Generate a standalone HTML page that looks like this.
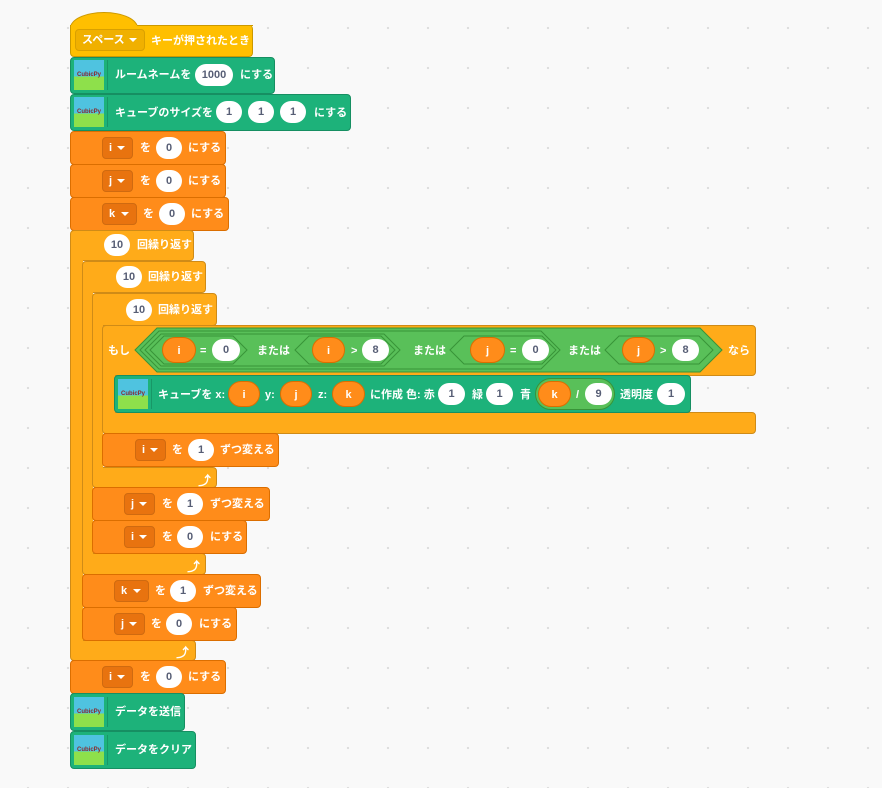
<!DOCTYPE html>
<html><head><meta charset="utf-8"><style>
body{margin:0;width:882px;height:788px;overflow:hidden;background-color:#f9f9f9;background-image:radial-gradient(#dcdcdc 1px,transparent 1.3px);background-size:40px 40px;background-position:8px 8px;font-family:"Liberation Sans","Noto Sans CJK JP",sans-serif;font-weight:bold;font-size:11px;color:#fff;position:relative}
.b{position:absolute;box-sizing:border-box;border-radius:4px}
.hat{background:#FFBF00;border:1px solid #cc9900}
.grn{background:#1db27a;border:1px solid #168f62}
.org{background:#FF8C1A;border:1px solid #db6e00}
.ctl{background:#FFAB19;border:1px solid #cf8b17}
.col{border:none!important;border-left:1px solid #cf8b17!important}
.t{position:absolute;white-space:nowrap;line-height:14px}
.p{position:absolute;background:#fff;color:#575e75;border-radius:12px;height:22px;line-height:22px;text-align:center;font-size:11px}
.op{position:absolute;background:#FF8C1A;color:#fff;border-radius:14px;height:26px;line-height:26px;text-align:center;border:1px solid #db6e00;box-sizing:border-box}
.dd{position:absolute;background:#e8730f;border:1px solid #cf6a10;border-radius:4px;height:22px;line-height:20px;box-sizing:border-box;padding-left:6px}
.dd:after{content:"";position:absolute;right:7px;top:8px;border-left:4px solid transparent;border-right:4px solid transparent;border-top:4px solid #fff}
.ic{position:absolute;width:30px;height:30px;background:linear-gradient(#4fc3e0 55%,#8ee04b 55%);color:#8a2a2a;font-size:6px;line-height:30px;text-align:center}
.sep{position:absolute;width:1px;background:rgba(0,0,0,.15)}
.arr{position:absolute;font-size:13px}
</style></head><body>

<!-- hat -->
<div class="b hat" style="left:70px;top:12px;width:68px;height:24px;border-radius:34px 34px 0 0/16px 16px 0 0;border-bottom:none"></div>
<div class="b hat" style="left:70px;top:25px;width:183px;height:32px;border-top:none;border-radius:0 4px 4px 4px"></div>
<div style="position:absolute;left:137px;top:25px;width:116px;height:1px;background:#cc9900"></div>
<div class="dd" style="left:75px;top:29px;width:70px;background:#f0b000;border-color:#d9a000">スペース</div>
<div class="t" style="left:151px;top:34px">キーが押されたとき</div>

<!-- green 1 -->
<div class="b grn" style="left:70px;top:57px;width:205px;height:37px"></div>
<div class="ic" style="left:74px;top:60px">CubicPy</div><div class="sep" style="left:107px;top:60px;height:30px"></div>
<div class="t" style="left:115px;top:68px">ルームネームを</div>
<div class="p" style="left:195px;top:64px;width:38px">1000</div>
<div class="t" style="left:240px;top:68px">にする</div>

<!-- green 2 -->
<div class="b grn" style="left:70px;top:94px;width:281px;height:37px"></div>
<div class="ic" style="left:74px;top:97px">CubicPy</div><div class="sep" style="left:107px;top:97px;height:30px"></div>
<div class="t" style="left:115px;top:106px">キューブのサイズを</div>
<div class="p" style="left:216px;top:101px;width:26px">1</div>
<div class="p" style="left:248px;top:101px;width:26px">1</div>
<div class="p" style="left:280px;top:101px;width:26px">1</div>
<div class="t" style="left:314px;top:106px">にする</div>

<!-- set i,j,k -->
<div class="b org" style="left:70px;top:131px;width:156px;height:34px"></div>
<div class="dd" style="left:102px;top:137px;width:31px">i</div><div class="t" style="left:140px;top:141px">を</div>
<div class="p" style="left:156px;top:137px;width:26px">0</div><div class="t" style="left:188px;top:141px">にする</div>
<div class="b org" style="left:70px;top:164px;width:156px;height:34px"></div>
<div class="dd" style="left:102px;top:170px;width:31px">j</div><div class="t" style="left:140px;top:174px">を</div>
<div class="p" style="left:156px;top:170px;width:26px">0</div><div class="t" style="left:188px;top:174px">にする</div>
<div class="b org" style="left:70px;top:197px;width:159px;height:34px"></div>
<div class="dd" style="left:102px;top:203px;width:35px">k</div><div class="t" style="left:143px;top:207px">を</div>
<div class="p" style="left:159px;top:203px;width:26px">0</div><div class="t" style="left:191px;top:207px">にする</div>

<!-- repeat 1 -->
<div class="b ctl" style="left:70px;top:230px;width:124px;height:31px"></div>
<div class="b ctl" style="left:70px;top:640px;width:126px;height:21px"></div>
<div class="b ctl col" style="left:70px;top:236px;width:13px;height:410px;border-radius:0"></div>
<div class="p" style="left:104px;top:234px;width:26px">10</div><div class="t" style="left:137px;top:238px">回繰り返す</div>
<div class="arr" style="left:176px;top:642px">⤴</div>

<!-- repeat 2 -->
<div class="b ctl" style="left:82px;top:261px;width:124px;height:32px"></div>
<div class="b ctl" style="left:82px;top:553px;width:124px;height:22px"></div>
<div class="b ctl col" style="left:82px;top:267px;width:11px;height:292px;border-radius:0"></div>
<div class="p" style="left:116px;top:266px;width:26px">10</div><div class="t" style="left:148px;top:270px">回繰り返す</div>
<div class="arr" style="left:187px;top:556px">⤴</div>

<!-- repeat 3 -->
<div class="b ctl" style="left:92px;top:293px;width:125px;height:33px"></div>
<div class="b ctl" style="left:92px;top:467px;width:125px;height:21px"></div>
<div class="b ctl col" style="left:92px;top:299px;width:11px;height:174px;border-radius:0"></div>
<div class="p" style="left:126px;top:299px;width:26px">10</div><div class="t" style="left:158px;top:303px">回繰り返す</div>
<div class="arr" style="left:198px;top:470px">⤴</div>

<!-- if -->
<div class="b ctl" style="left:102px;top:325px;width:654px;height:51px"></div>
<div class="b ctl" style="left:102px;top:412px;width:654px;height:22px"></div>
<div class="b ctl col" style="left:102px;top:331px;width:13px;height:90px;border-radius:0"></div>
<div class="t" style="left:108px;top:344px">もし</div>
<svg style="position:absolute;left:0;top:0" width="882" height="788">
<polygon points="135,350 157,328 700,328 722,350 700,372 157,372" fill="#59C059" stroke="#389438"/>
<polygon points="140,350 159,331 541,331 560,350 541,369 159,369" fill="#59C059" stroke="#389438"/>
<polygon points="145,350 161,334 384,334 400,350 384,366 161,366" fill="#59C059" stroke="#389438"/>
<polygon points="150,350 164,336 233,336 247,350 233,364 164,364" fill="#59C059" stroke="#389438"/>
<polygon points="295,350 309,336 381,336 395,350 381,364 309,364" fill="#59C059" stroke="#389438"/>
<polygon points="450,350 464,336 542,336 556,350 542,364 464,364" fill="#59C059" stroke="#389438"/>
<polygon points="605,350 619,336 699,336 713,350 699,364 619,364" fill="#59C059" stroke="#389438"/>
</svg>
<div class="op" style="left:162px;top:337px;width:34px">i</div><div class="t" style="left:200px;top:344px">=</div>
<div class="p" style="left:212px;top:339px;width:28px">0</div>
<div class="t" style="left:257px;top:344px">または</div>
<div class="op" style="left:312px;top:337px;width:33px">i</div><div class="t" style="left:351px;top:344px">&gt;</div>
<div class="p" style="left:362px;top:339px;width:27px">8</div>
<div class="t" style="left:413px;top:344px">または</div>
<div class="op" style="left:470px;top:337px;width:35px">j</div><div class="t" style="left:510px;top:344px">=</div>
<div class="p" style="left:522px;top:339px;width:27px">0</div>
<div class="t" style="left:568px;top:344px">または</div>
<div class="op" style="left:622px;top:337px;width:33px">j</div><div class="t" style="left:660px;top:344px">&gt;</div>
<div class="p" style="left:672px;top:339px;width:27px">8</div>
<div class="t" style="left:728px;top:344px">なら</div>

<!-- cube block -->
<div class="b grn" style="left:114px;top:375px;width:577px;height:38px"></div>
<div class="ic" style="left:118px;top:379px">CubicPy</div><div class="sep" style="left:151px;top:379px;height:30px"></div>
<div class="t" style="left:158px;top:388px">キューブを x:</div>
<div class="op" style="left:228px;top:381px;width:32px">i</div>
<div class="t" style="left:265px;top:388px">y:</div>
<div class="op" style="left:280px;top:381px;width:32px">j</div>
<div class="t" style="left:318px;top:388px">z:</div>
<div class="op" style="left:332px;top:381px;width:33px">k</div>
<div class="t" style="left:370px;top:388px">に作成 色: 赤</div>
<div class="p" style="left:438px;top:383px;width:27px">1</div>
<div class="t" style="left:472px;top:388px">緑</div>
<div class="p" style="left:486px;top:383px;width:27px">1</div>
<div class="t" style="left:520px;top:388px">青</div>
<div style="position:absolute;left:535px;top:378px;width:80px;height:32px;border-radius:16px;background:#59C059;border:1px solid #389438;box-sizing:border-box"></div>
<div class="op" style="left:538px;top:381px;width:33px">k</div>
<div class="t" style="left:576px;top:388px">/</div>
<div class="p" style="left:585px;top:383px;width:27px">9</div>
<div class="t" style="left:620px;top:388px">透明度</div>
<div class="p" style="left:657px;top:383px;width:28px">1</div>

<!-- change i -->
<div class="b org" style="left:102px;top:433px;width:177px;height:34px"></div>
<div class="dd" style="left:135px;top:439px;width:31px">i</div><div class="t" style="left:172px;top:443px">を</div>
<div class="p" style="left:188px;top:439px;width:26px">1</div><div class="t" style="left:220px;top:443px">ずつ変える</div>

<!-- change j, set i -->
<div class="b org" style="left:92px;top:487px;width:178px;height:34px"></div>
<div class="dd" style="left:124px;top:493px;width:31px">j</div><div class="t" style="left:162px;top:497px">を</div>
<div class="p" style="left:177px;top:493px;width:26px">1</div><div class="t" style="left:210px;top:497px">ずつ変える</div>
<div class="b org" style="left:92px;top:520px;width:155px;height:34px"></div>
<div class="dd" style="left:124px;top:526px;width:31px">i</div><div class="t" style="left:162px;top:530px">を</div>
<div class="p" style="left:177px;top:526px;width:26px">0</div><div class="t" style="left:210px;top:530px">にする</div>

<!-- change k, set j -->
<div class="b org" style="left:82px;top:574px;width:179px;height:34px"></div>
<div class="dd" style="left:114px;top:580px;width:35px">k</div><div class="t" style="left:155px;top:584px">を</div>
<div class="p" style="left:170px;top:580px;width:26px">1</div><div class="t" style="left:203px;top:584px">ずつ変える</div>
<div class="b org" style="left:82px;top:607px;width:155px;height:34px"></div>
<div class="dd" style="left:114px;top:613px;width:31px">j</div><div class="t" style="left:151px;top:617px">を</div>
<div class="p" style="left:166px;top:613px;width:26px">0</div><div class="t" style="left:199px;top:617px">にする</div>

<!-- set i 0 -->
<div class="b org" style="left:70px;top:660px;width:156px;height:34px"></div>
<div class="dd" style="left:102px;top:666px;width:31px">i</div><div class="t" style="left:140px;top:670px">を</div>
<div class="p" style="left:156px;top:666px;width:26px">0</div><div class="t" style="left:188px;top:670px">にする</div>

<!-- green end -->
<div class="b grn" style="left:70px;top:693px;width:115px;height:38px"></div>
<div class="ic" style="left:74px;top:697px">CubicPy</div><div class="sep" style="left:107px;top:697px;height:30px"></div>
<div class="t" style="left:115px;top:705px">データを送信</div>
<div class="b grn" style="left:70px;top:731px;width:126px;height:38px"></div>
<div class="ic" style="left:74px;top:735px">CubicPy</div><div class="sep" style="left:107px;top:735px;height:30px"></div>
<div class="t" style="left:115px;top:743px">データをクリア</div>
</body></html>
